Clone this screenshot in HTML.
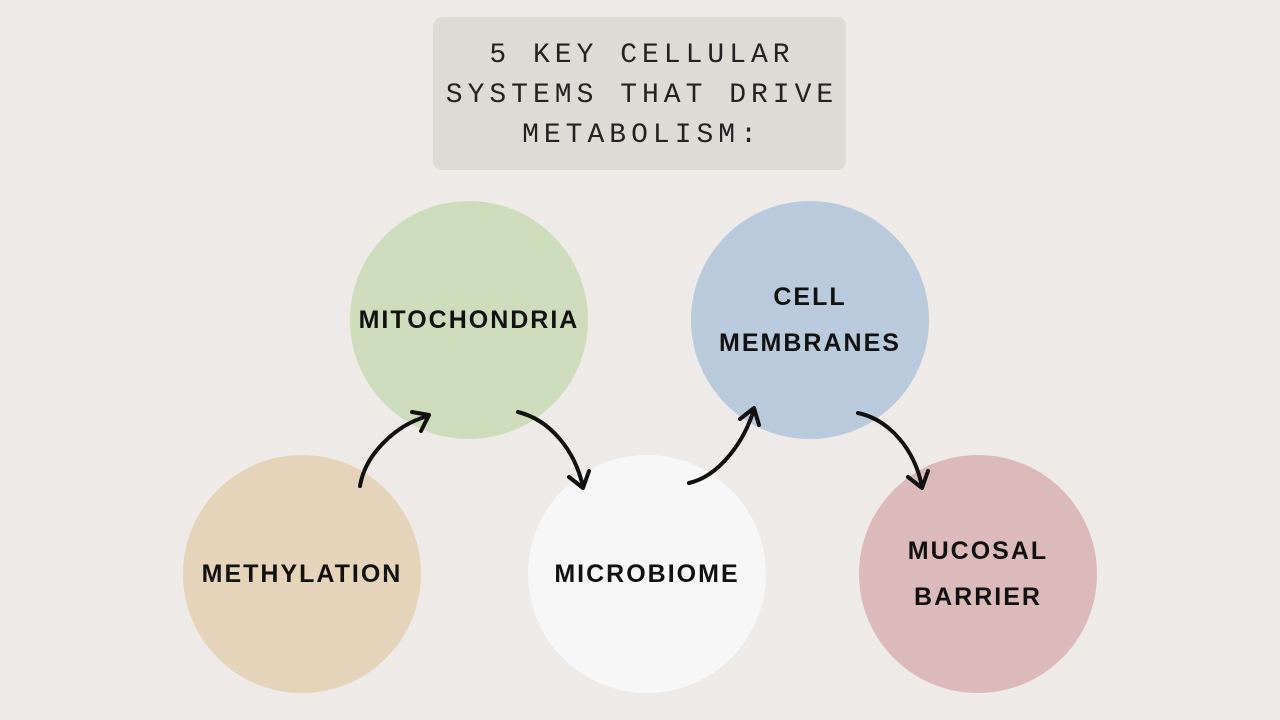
<!DOCTYPE html>
<html><head><style>
body{margin:0;width:1280px;height:720px;background:#eeeae7;position:relative;overflow:hidden;font-family:"Liberation Sans",sans-serif}
.title{position:absolute;left:433px;top:17px;width:413px;height:153px;background:#dedad6;border-radius:9px;text-align:center;font-family:"Liberation Mono",monospace;font-size:28px;letter-spacing:5px;line-height:40px;color:#222;padding-top:19px;padding-left:5px;box-sizing:border-box}
.c{position:absolute;width:238px;height:238px;border-radius:50%;display:flex;align-items:center;justify-content:center;text-align:center;font-weight:bold;font-size:25px;letter-spacing:2px;line-height:46px;color:#111}
</style></head><body>
<div class="title">5 KEY CELLULAR<br>SYSTEMS THAT DRIVE<br>METABOLISM:</div>
<div class="c" style="left:350px;top:201px;background:#cddcbb">MITOCHONDRIA</div>
<div class="c" style="left:691px;top:201px;background:#b9cadc">CELL<br>MEMBRANES</div>
<div class="c" style="left:183px;top:455px;background:#e5d4b9">METHYLATION</div>
<div class="c" style="left:528px;top:455px;background:#f7f7f7">MICROBIOME</div>
<div class="c" style="left:859px;top:455px;background:#dcbab9">MUCOSAL<br>BARRIER</div>
<svg width="1280" height="720" style="position:absolute;left:0;top:0" fill="none" stroke="#111" stroke-width="4" stroke-linecap="round" stroke-linejoin="round">
<path d="M360 486 C365 455 395 425 428 416"/><path d="M412 412 L429 415 L421 431"/>
<path d="M518 412 C550 420 575 450 583 487"/><path d="M569 477 L583 488 L589 471"/>
<path d="M689 483 C720 476 745 440 754 409"/><path d="M740 419 L754 408 L759 425"/>
<path d="M858 413 C890 420 915 450 922 487"/><path d="M908 477 L922 488 L928 471"/>
</svg>
</body></html>
